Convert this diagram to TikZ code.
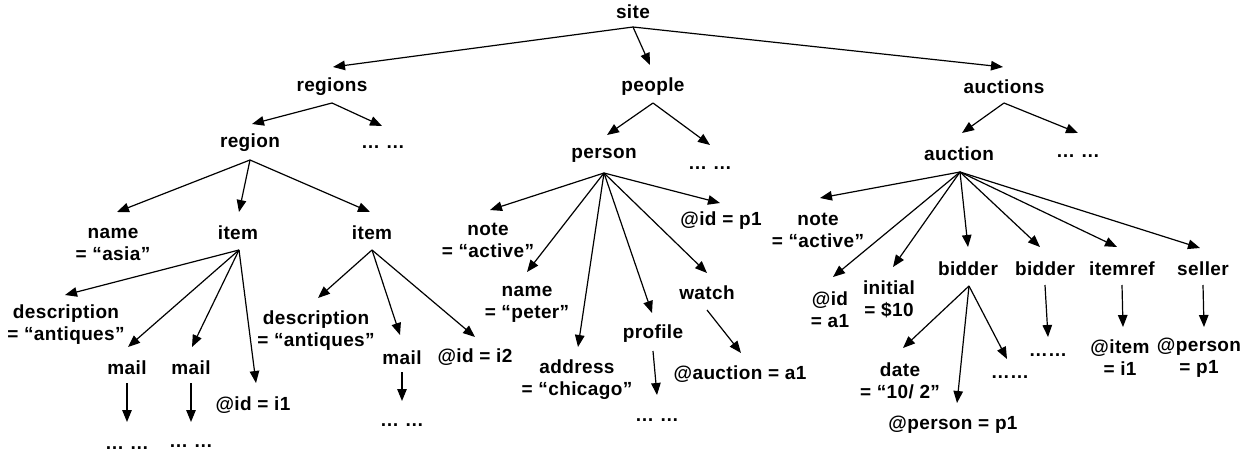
\documentclass[tikz,border=0pt]{standalone}
\usepackage{fontspec}
\setmainfont{Liberation Sans}[LetterSpace=2]
\usetikzlibrary{arrows.meta,calc}
\begin{document}
\begin{tikzpicture}[x=1pt,y=-1pt,
  lbl/.style={inner sep=0pt,outer sep=0pt,align=center,font=\fontsize{19}{22}\selectfont\bfseries},
  arr/.style={line width=1.2pt,-{Triangle[length=12pt,width=9.5pt]}}]
\useasboundingbox (0,0) rectangle (1250,455);
% nodes
\node[lbl] (site) at (633,12) {site};
\node[lbl] (regions) at (332,87) {regions};
\node[lbl] (people) at (653,87) {people};
\node[lbl] (auctions) at (1004,87) {auctions};
\node[lbl] (region) at (250,143) {region};
\node[lbl] (rdots) at (383,147) {… …};
\node[lbl] (person) at (604,155) {person};
\node[lbl] (pdots) at (710,168) {… …};
\node[lbl] (auction) at (959,154) {auction};
\node[lbl] (adots) at (1078,156) {… …};
\node[lbl] (name1) at (113,244) {name\\= “asia”};
\node[lbl] (item1) at (238,233) {item};
\node[lbl] (item2) at (372,233) {item};
\node[lbl] (desc1) at (66,325) {description\\= “antiques”};
\node[lbl] (mail1) at (127,368) {mail};
\node[lbl] (mail2) at (191,368) {mail};
\node[lbl] (idi1) at (253,405) {@id = i1};
\node[lbl] (desc2) at (316,331) {description\\= “antiques”};
\node[lbl] (mail3) at (402,358) {mail};
\node[lbl] (idi2) at (475,357) {@id = i2};
\node[lbl] (m1dots) at (127,448) {… …};
\node[lbl] (m2dots) at (191,446) {… …};
\node[lbl] (m3dots) at (402,425) {… …};
\node[lbl] (note1) at (488,240) {note\\= “active”};
\node[lbl] (idp1) at (721,221) {@id = p1};
\node[lbl] (name2) at (527,304) {name\\= “peter”};
\node[lbl] (address) at (577,380) {address\\= “chicago”};
\node[lbl] (profile) at (653,334) {profile};
\node[lbl] (watch) at (707,293) {watch};
\node[lbl] (auca1) at (740,374) {@auction = a1};
\node[lbl] (prdots) at (657,420) {… …};
\node[lbl] (note2) at (818,230) {note\\= “active”};
\node[lbl] (ida1) at (830,310) {@id\\= a1};
\node[lbl] (initial) at (889,299) {initial\\= \$10};
\node[lbl] (bidder1) at (968,269) {bidder};
\node[lbl] (bidder2) at (1045,269) {bidder};
\node[lbl] (itemref) at (1122,269) {itemref};
\node[lbl] (seller) at (1203,269) {seller};
\node[lbl] (date) at (900,381) {date\\= “10/ 2”};
\node[lbl] (personp1) at (953,425) {@person = p1};
\node[lbl] (b1dots) at (1010,377) {……};
\node[lbl] (b2dots) at (1048,355) {……};
\node[lbl] (itemi1) at (1120,358) {@item\\= i1};
\node[lbl] (sellerp1) at (1199,358) {@person\\= p1};
% connectors
\draw[arr] ($(site)+(0,15)$) -- ($(regions)+(1,-20)$);
\draw[arr] ($(site)+(0,15)$) -- ($(people)+(-3,-22)$);
\draw[arr] ($(site)+(0,15)$) -- ($(auctions)+(-1,-20)$);
\draw[arr] ($(regions)+(0,16)$) -- ($(region)+(2,-19)$);
\draw[arr] ($(regions)+(0,16)$) -- ($(rdots)+(-1,-21)$);
\draw[arr] ($(people)+(0,16)$) -- ($(person)+(3,-20)$);
\draw[arr] ($(people)+(0,16)$) -- ($(pdots)+(0,-23)$);
\draw[arr] ($(auctions)+(0,16)$) -- ($(auction)+(3,-21)$);
\draw[arr] ($(auctions)+(0,16)$) -- ($(adots)+(0,-23)$);
\draw[arr] ($(region)+(0,17)$) -- ($(name1)+(4,-32)$);
\draw[arr] ($(region)+(0,17)$) -- ($(item1)+(1,-21)$);
\draw[arr] ($(region)+(0,17)$) -- ($(item2)+(-2,-21)$);
\draw[arr] ($(item1)+(1,17)$) -- ($(desc1)+(-1,-30)$);
\draw[arr] ($(item1)+(1,17)$) -- ($(mail1)+(1,-21)$);
\draw[arr] ($(item1)+(1,17)$) -- ($(mail2)+(1,-21)$);
\draw[arr] ($(item1)+(1,17)$) -- ($(idi1)+(3,-22)$);
\draw[arr] ($(item2)+(0,17)$) -- ($(desc2)+(2,-33)$);
\draw[arr] ($(item2)+(0,17)$) -- ($(mail3)+(-2,-23)$);
\draw[arr] ($(item2)+(0,17)$) -- ($(idi2)+(0,-20)$);
\draw[arr] ($(mail1)+(0,15)$) -- ($(m1dots)+(0,-26)$);
\draw[arr] ($(mail2)+(0,15)$) -- ($(m2dots)+(0,-24)$);
\draw[arr] ($(mail3)+(0,14)$) -- ($(m3dots)+(0,-24)$);
\draw[arr] ($(person)+(0,18)$) -- ($(note1)+(2,-30)$);
\draw[arr] ($(person)+(0,18)$) -- ($(idp1)+(-1,-18)$);
\draw[arr] ($(person)+(0,18)$) -- ($(name2)+(0,-32)$);
\draw[arr] ($(person)+(0,18)$) -- ($(address)+(1,-33)$);
\draw[arr] ($(person)+(0,18)$) -- ($(profile)+(-1,-21)$);
\draw[arr] ($(person)+(0,18)$) -- ($(watch)+(0,-20)$);
\draw[arr] ($(watch)+(0,17)$) -- ($(auca1)+(1,-21)$);
\draw[arr] ($(profile)+(0,17)$) -- ($(prdots)+(0,-25)$);
\draw[arr] ($(auction)+(1,18)$) -- ($(note2)+(2,-32)$);
\draw[arr] ($(auction)+(1,18)$) -- ($(ida1)+(3,-33)$);
\draw[arr] ($(auction)+(1,18)$) -- ($(initial)+(4,-32)$);
\draw[arr] ($(auction)+(1,18)$) -- ($(bidder1)+(0,-22)$);
\draw[arr] ($(auction)+(1,18)$) -- ($(bidder2)+(-5,-22)$);
\draw[arr] ($(auction)+(1,18)$) -- ($(itemref)+(-5,-22)$);
\draw[arr] ($(auction)+(1,18)$) -- ($(seller)+(-3,-21)$);
\draw[arr] ($(bidder1)+(1,17)$) -- ($(date)+(3,-33)$);
\draw[arr] ($(bidder1)+(1,17)$) -- ($(personp1)+(4,-22)$);
\draw[arr] ($(bidder1)+(1,17)$) -- ($(b1dots)+(-3,-18)$);
\draw[arr] ($(bidder2)+(0,16)$) -- ($(b2dots)+(0,-18)$);
\draw[arr] ($(itemref)+(0,16)$) -- ($(itemi1)+(3,-31)$);
\draw[arr] ($(seller)+(0,16)$) -- ($(sellerp1)+(5,-31)$);
\end{tikzpicture}
\end{document}
